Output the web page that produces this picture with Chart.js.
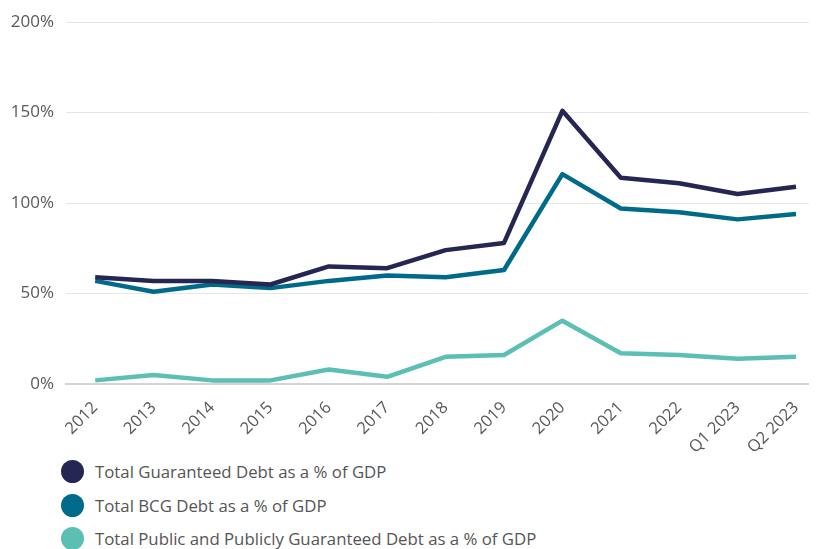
<!DOCTYPE html>
<html>
<head>
<meta charset="utf-8">
<script src="https://cdn.jsdelivr.net/npm/chart.js@4/dist/chart.umd.min.js"></script>
<style>
    body { margin: 0; background: #fff; font-family: "Open Sans", sans-serif; }
    #wrap { position: relative; width: 816px; height: 455px; }
    #legend { position: absolute; left: 61px; top: 455px; }
    .item { display: flex; align-items: center; height: 33.5px; color: #555; font-size: 16.8px; }
    .dot { width: 23px; height: 23px; border-radius: 50%; margin-right: 11px; }
</style>
</head>
<body>
<div id="wrap"><canvas id="debtChart"></canvas></div>
<div id="legend"></div>
<script>
const periods = ['2012', '2013', '2014', '2015', '2016', '2017', '2018', '2019', '2020', '2021', '2022', 'Q1 2023', 'Q2 2023'];
const guaranteedDebt = [59, 57, 57, 55, 65, 64, 74, 78, 151, 114, 111, 105, 109];
const bcgDebt = [57, 51, 55, 53, 57, 60, 59, 63, 116, 97, 95, 91, 94];
const publicDebt = [2, 5, 2, 2, 8, 4, 15, 16, 35, 17, 16, 14, 15];
const yTicks = [0, 50, 100, 150, 200];

const seriesNames = [
    'Total Guaranteed Debt as a % of GDP',
    'Total BCG Debt as a % of GDP',
    'Total Public and Publicly Guaranteed Debt as a % of GDP'
];
const seriesColors = ['#252651', '#006a8a', '#5bbfb5'];

function toPoints(values) {
    return values.map((v, i) => ({ x: i, y: v }));
}

document.addEventListener('DOMContentLoaded', function() {
    const ctx = document.getElementById('debtChart').getContext('2d');
    const allSeries = [guaranteedDebt, bcgDebt, publicDebt];

    new Chart(ctx, {
        type: 'line',
        data: {
            datasets: allSeries.map((values, i) => ({
                label: seriesNames[i],
                data: toPoints(values),
                borderColor: seriesColors[i],
                backgroundColor: seriesColors[i],
                borderWidth: 4.5,
                pointRadius: 0,
                borderJoinStyle: 'round',
                tension: 0
            }))
        },
        options: {
            responsive: true,
            maintainAspectRatio: false,
            animation: false,
            layout: { padding: { top: 20, right: 0, bottom: 0, left: 0 } },
            scales: {
                x: {
                    type: 'linear',
                    min: -0.5,
                    max: 12.22,
                    afterBuildTicks: axis => { axis.ticks = periods.map((_, i) => ({ value: i })); },
                    afterFit: axis => { axis.height = 71; },
                    ticks: {
                        callback: value => periods[value],
                        minRotation: 45,
                        maxRotation: 45,
                        autoSkip: false,
                        padding: 6,
                        color: '#595959',
                        font: { family: 'Open Sans', size: 16.5 }
                    },
                    grid: { display: false },
                    border: { display: true, color: '#d4d4d4', width: 2 }
                },
                y: {
                    min: 0,
                    max: 200,
                    afterBuildTicks: axis => { axis.ticks = yTicks.map(v => ({ value: v })); },
                    afterFit: axis => { axis.width = 66; },
                    ticks: {
                        callback: value => value + '%',
                        padding: 12,
                        color: '#595959',
                        font: { family: 'Open Sans', size: 17 }
                    },
                    grid: { color: '#e6e6e6', lineWidth: 1, drawTicks: false },
                    border: { display: false }
                }
            },
            plugins: {
                legend: { display: false },
                tooltip: { enabled: false }
            }
        }
    });

    const legend = document.getElementById('legend');
    seriesNames.forEach((name, i) => {
        const item = document.createElement('div');
        item.className = 'item';
        item.innerHTML = '<span class="dot" style="background:' + seriesColors[i] + '"></span>' + name;
        legend.appendChild(item);
    });
});
</script>
</body>
</html>
